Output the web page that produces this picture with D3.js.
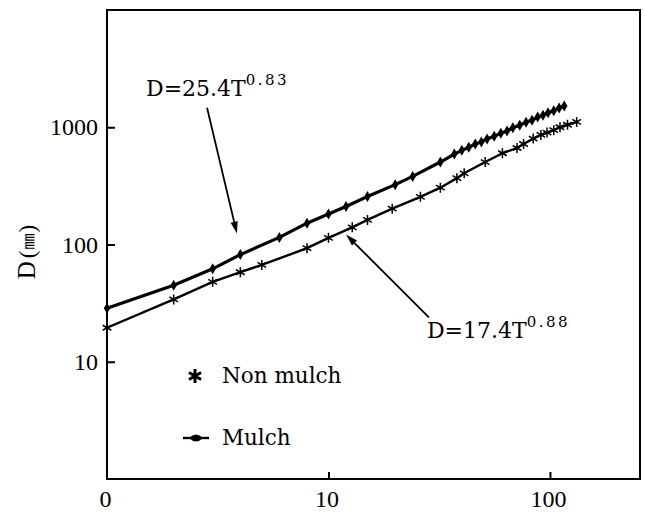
<!DOCTYPE html>
<html>
<head>
<meta charset="utf-8">
<script src="https://cdn.jsdelivr.net/npm/d3@7"></script>
<style>
  html, body { margin: 0; padding: 0; background: #fff; }
  svg { display: block; }
</style>
</head>
<body>
<svg id="chart" width="645" height="512"></svg>
<script>
// ---------------- data ----------------
const T_MULCH = [1, 2, 3, 4, 6, 8, 10, 12, 15, 20, 24, 32, 37, 40, 43, 46, 49, 52, 56, 60, 64, 68, 73, 78, 83, 88, 93, 98, 104, 110, 116];
const D_MULCH = [28.6, 45, 62, 82, 115, 152, 182, 211, 257, 324, 381, 505, 590, 635, 675, 718, 750, 795, 838, 890, 930, 990, 1040, 1105, 1150, 1220, 1265, 1330, 1385, 1460, 1520];

const T_NON = [1, 2, 3, 4, 5, 8, 10, 12.8, 15, 19.4, 26, 32, 38, 41, 51, 61, 71, 76, 84, 91, 97, 104, 111, 120, 132];
const D_NON = [19.5, 34, 48, 58, 67, 93, 114, 140, 162, 202, 255, 305, 368, 405, 505, 600, 665, 720, 800, 860, 900, 945, 1000, 1050, 1110];

const X_TICKS = [1, 10, 100];
const X_TICK_LABELS = ["0", "10", "100"];
const Y_TICKS = [10, 100, 1000];
const Y_TICK_LABELS = ["10", "100", "1000"];

const SERIES_NAMES = ["Non mulch", "Mulch"];
const EQ_MULCH = { base: "D=25.4T", exp: "0.83" };
const EQ_NON = { base: "D=17.4T", exp: "0.88" };

// ---------------- layout ----------------
const svg = d3.select("#chart");
const L = 107, R = 640, TOP = 10, BOT = 479;

const x = d3.scaleLog().domain([1, 255]).range([L, R]);
const y = d3.scaleLog().domain([1, 10000]).range([BOT, TOP]);

// frame
svg.append("rect")
  .attr("x", L).attr("y", TOP)
  .attr("width", R - L).attr("height", BOT - TOP)
  .attr("fill", "none").attr("stroke", "#000").attr("stroke-width", 2);

// axes
const yAxis = d3.axisLeft(y)
  .tickValues(Y_TICKS)
  .tickFormat((d, i) => Y_TICK_LABELS[i])
  .tickSizeInner(-8).tickSizeOuter(0).tickPadding(9);
const gy = svg.append("g").attr("transform", `translate(${L},0)`).call(yAxis);

const xAxis = d3.axisBottom(x)
  .tickValues(X_TICKS)
  .tickFormat((d, i) => X_TICK_LABELS[i])
  .tickSizeInner(-7).tickSizeOuter(0).tickPadding(11);
const gx = svg.append("g").attr("transform", `translate(0,${BOT})`).call(xAxis);

[gx, gy].forEach(g => {
  g.select(".domain").remove();
  g.selectAll(".tick line").attr("stroke", "#000").attr("stroke-width", 2);
  g.selectAll(".tick text")
    .attr("fill", "#000")
    .style("font-family", "'Liberation Serif', 'DejaVu Serif', serif")
    .style("font-size", "24px");
});
gx.selectAll(".tick").filter(d => d === 1).select("line").remove();
gx.selectAll(".tick text").attr("dx", "-2px");

// y axis title  D(㎜)
const yt = svg.append("text")
  .attr("transform", "rotate(-90)")
  .attr("x", -252).attr("y", 35)
  .attr("text-anchor", "middle")
  .style("font-family", "'Liberation Serif', serif")
  .style("font-size", "25px")
  .attr("fill", "#000");
yt.append("tspan").text("D");
yt.append("tspan").attr("dx", 3).style("font-size", "23px").text("(");
yt.append("tspan").attr("dx", 1).attr("dy", -1)
  .style("font-family", "'Noto Sans CJK JP', 'Noto Sans CJK SC', sans-serif")
  .style("font-size", "16px").text("㎜");
yt.append("tspan").attr("dx", 1).attr("dy", 1).style("font-size", "23px").text(")");

// ---------------- series ----------------
const mulch = T_MULCH.map((t, i) => ({ t, d: D_MULCH[i] }));
const non = T_NON.map((t, i) => ({ t, d: D_NON[i] }));

const line = d3.line().x(p => x(p.t)).y(p => y(p.d));

svg.append("path").datum(non)
  .attr("d", line).attr("fill", "none")
  .attr("stroke", "#000").attr("stroke-width", 2.4);

svg.append("path").datum(mulch)
  .attr("d", line).attr("fill", "none")
  .attr("stroke", "#000").attr("stroke-width", 3.2);

function starPath(r) {
  const c = Math.cos(Math.PI / 6) * r, s = Math.sin(Math.PI / 6) * r;
  return `M0,${-r}L0,${r}M${-c},${-s}L${c},${s}M${-c},${s}L${c},${-s}`;
}
const diamond = "M0,-5.5L3.2,0L0,5.5L-3.2,0Z";

svg.append("g").selectAll("path").data(non).join("path")
  .attr("transform", p => `translate(${x(p.t)},${y(p.d)})`)
  .attr("d", starPath(5))
  .attr("fill", "none").attr("stroke", "#000").attr("stroke-width", 1.5);

svg.append("g").selectAll("path").data(mulch).join("path")
  .attr("transform", p => `translate(${x(p.t)},${y(p.d)})`)
  .attr("d", diamond)
  .attr("fill", "#000");

// ---------------- annotations (anchored in data space) ----------------
const ANNOT = [
  { eq: EQ_MULCH, label: [1.5, 1853], tail: [2.83, 1466], tip: [3.86, 124] },
  { eq: EQ_NON, label: [27.85, 15.85], tail: [28.4, 23.9], tip: [12.0, 121.6] }
];

ANNOT.forEach(a => {
  const lx = x(a.label[0]), ly = y(a.label[1]);
  const t = svg.append("text")
    .attr("x", lx).attr("y", ly)
    .style("font-family", "'DejaVu Serif', serif")
    .style("font-size", "22px")
    .attr("fill", "#000");
  t.append("tspan").text(a.eq.base);
  t.append("tspan").attr("dy", -11).attr("dx", 0)
    .style("font-size", "15px").style("letter-spacing", "2.5px")
    .text(a.eq.exp);

  const x1 = x(a.tail[0]), y1 = y(a.tail[1]);
  const x2 = x(a.tip[0]), y2 = y(a.tip[1]);
  const ang = Math.atan2(y2 - y1, x2 - x1);
  const hl = 12, hw = 3.6;
  const bx = x2 - hl * Math.cos(ang), by = y2 - hl * Math.sin(ang);
  svg.append("line")
    .attr("x1", x1).attr("y1", y1).attr("x2", bx).attr("y2", by)
    .attr("stroke", "#000").attr("stroke-width", 1.8);
  const px = -Math.sin(ang) * hw, py = Math.cos(ang) * hw;
  svg.append("path")
    .attr("d", `M${x2},${y2}L${bx + px},${by + py}L${bx - px},${by - py}Z`)
    .attr("fill", "#000");
});

// ---------------- legend ----------------
const leg = svg.append("g");
leg.append("path").attr("transform", "translate(195,376)")
  .attr("d", starPath(7)).attr("fill", "none")
  .attr("stroke", "#000").attr("stroke-width", 3);
leg.append("text").attr("x", 222).attr("y", 383)
  .style("font-family", "'DejaVu Serif', serif").style("font-size", "21.5px")
  .attr("fill", "#000").text(SERIES_NAMES[0]);

leg.append("line").attr("x1", 183).attr("x2", 209).attr("y1", 438).attr("y2", 438)
  .attr("stroke", "#000").attr("stroke-width", 2.4);
leg.append("path").attr("transform", "translate(196,438)")
  .attr("d", "M-7,0Q0,-7 7,0Q0,7 -7,0Z").attr("fill", "#000");
leg.append("text").attr("x", 222).attr("y", 445)
  .style("font-family", "'DejaVu Serif', serif").style("font-size", "21.5px")
  .attr("fill", "#000").text(SERIES_NAMES[1]);
</script>
</body>
</html>
